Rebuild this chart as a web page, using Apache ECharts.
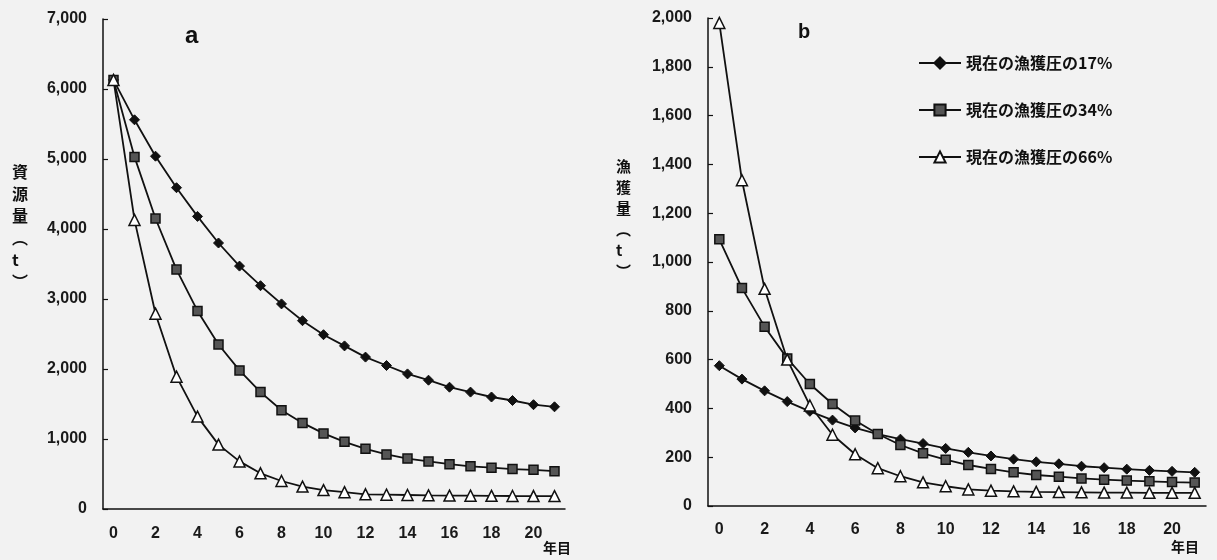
<!DOCTYPE html>
<html>
<head>
<meta charset="utf-8">
<script src="https://cdn.jsdelivr.net/npm/echarts@6/dist/echarts.min.js"></script>
<style>
  html, body { margin: 0; padding: 0; background: #f2f2f2; }
  #main { width: 1217px; height: 560px; }
</style>
</head>
<body>
<div id="main"></div>
<script>
// years 0..21
const years = Array.from({ length: 22 }, (_, i) => String(i));

const seriesNames = ['現在の漁獲圧の17%', '現在の漁獲圧の34%', '現在の漁獲圧の66%'];

// a: 資源量 (t)
const stock17 = [6130, 5560, 5040, 4590, 4180, 3800, 3470, 3190, 2930, 2690, 2490, 2330, 2170, 2050, 1930, 1840, 1740, 1670, 1600, 1550, 1490, 1460];
const stock34 = [6130, 5030, 4150, 3420, 2830, 2350, 1980, 1670, 1410, 1230, 1080, 960, 860, 780, 720, 680, 640, 610, 590, 570, 560, 540];
const stock66 = [6130, 4130, 2790, 1890, 1320, 920, 680, 510, 400, 320, 270, 240, 210, 205, 200, 195, 192, 190, 188, 186, 185, 184];

// b: 漁獲量 (t)
const catch17 = [575, 520, 472, 428, 388, 352, 320, 295, 274, 256, 236, 220, 205, 192, 181, 173, 163, 157, 151, 146, 142, 138];
const catch34 = [1093, 893, 735, 605, 500, 418, 350, 295, 250, 216, 190, 168, 152, 138, 127, 120, 113, 108, 104, 101, 98, 96];
const catch66 = [1980, 1335, 890, 600, 412, 292, 212, 155, 122, 97, 81, 68, 63, 60, 58, 57, 56, 55, 55, 54, 54, 54];

const chart = echarts.init(document.getElementById('main'));

const labelFont = {
  fontFamily: 'Liberation Sans, Arial, sans-serif',
  fontWeight: 'bold',
  fontSize: 16,
  color: '#1a1a1a'
};

function fmt(v) {
  return v.toLocaleString('en-US');
}

function xAxis(grid, margin) {
  return {
    type: 'category',
    gridIndex: grid,
    data: years,
    boundaryGap: true,
    axisLine: { lineStyle: { color: '#111', width: 1.5 } },
    axisTick: { inside: true, length: 5, interval: 0, lineStyle: { color: '#111', width: 1.2 } },
    axisLabel: Object.assign({ interval: 1, margin: margin }, labelFont),
    splitLine: { show: false }
  };
}

function yAxis(grid, max, step) {
  return {
    type: 'value',
    gridIndex: grid,
    min: 0,
    max: max,
    interval: step,
    axisLine: { show: true, lineStyle: { color: '#111', width: 1.5 } },
    axisTick: { show: true, inside: true, length: 5, lineStyle: { color: '#111', width: 1.2 } },
    axisLabel: Object.assign({ margin: 16, formatter: fmt }, labelFont),
    splitLine: { show: false }
  };
}

const styles = [
  { symbol: 'diamond', symbolSize: 10, itemStyle: { color: '#111', borderColor: '#111', borderWidth: 1 } },
  { symbol: 'rect', symbolSize: 9, itemStyle: { color: '#555', borderColor: '#111', borderWidth: 1.5 } },
  { symbol: 'triangle', symbolSize: 11, itemStyle: { color: '#fff', borderColor: '#111', borderWidth: 1.5 } }
];

function line(name, data, axis, st) {
  return Object.assign({
    name: name,
    type: 'line',
    xAxisIndex: axis,
    yAxisIndex: axis,
    data: data,
    showSymbol: true,
    lineStyle: { color: '#111', width: 1.8 },
    animation: false
  }, st);
}

const option = {
  backgroundColor: '#f2f2f2',
  animation: false,
  grid: [
    { left: 103, top: 19, width: 462, height: 490 },
    { left: 708, top: 18, width: 498, height: 488 }
  ],
  xAxis: [xAxis(0, 17), xAxis(1, 16)],
  yAxis: [yAxis(0, 7000, 1000), yAxis(1, 2000, 200)],
  legend: {
    data: seriesNames,
    orient: 'vertical',
    left: 918,
    top: 55,
    padding: 0,
    itemGap: 31,
    itemWidth: 42,
    itemHeight: 14,
    textStyle: {
      fontFamily: 'Noto Sans CJK JP, sans-serif',
      fontWeight: 'bold',
      fontSize: 16,
      color: '#111'
    }
  },
  graphic: [
    { type: 'text', left: 185, top: 24, style: { text: 'a', font: 'bold 24px Liberation Sans, Arial, sans-serif', fill: '#111' } },
    { type: 'text', left: 798, top: 22, style: { text: 'b', font: 'bold 20px Liberation Sans, Arial, sans-serif', fill: '#111' } },
    { type: 'text', left: 12, top: 161, style: { text: '資\n源\n量\n︵\nt\n︶', font: 'bold 16px Noto Sans CJK JP, sans-serif', lineHeight: 22, align: 'center', fill: '#111' } },
    { type: 'text', left: 616, top: 156, style: { text: '漁\n獲\n量\n︵\nt\n︶', font: 'bold 15px Noto Sans CJK JP, sans-serif', lineHeight: 21, align: 'center', fill: '#111' } },
    { type: 'text', left: 543, top: 541, style: { text: '年目', font: 'bold 14px Noto Sans CJK JP, sans-serif', fill: '#111' } },
    { type: 'text', left: 1171, top: 540, style: { text: '年目', font: 'bold 14px Noto Sans CJK JP, sans-serif', fill: '#111' } }
  ],
  series: [
    line(seriesNames[0], stock17, 0, styles[0]),
    line(seriesNames[1], stock34, 0, styles[1]),
    line(seriesNames[2], stock66, 0, styles[2]),
    line(seriesNames[0], catch17, 1, styles[0]),
    line(seriesNames[1], catch34, 1, styles[1]),
    line(seriesNames[2], catch66, 1, styles[2])
  ]
};

option && chart.setOption(option);
</script>
</body>
</html>
